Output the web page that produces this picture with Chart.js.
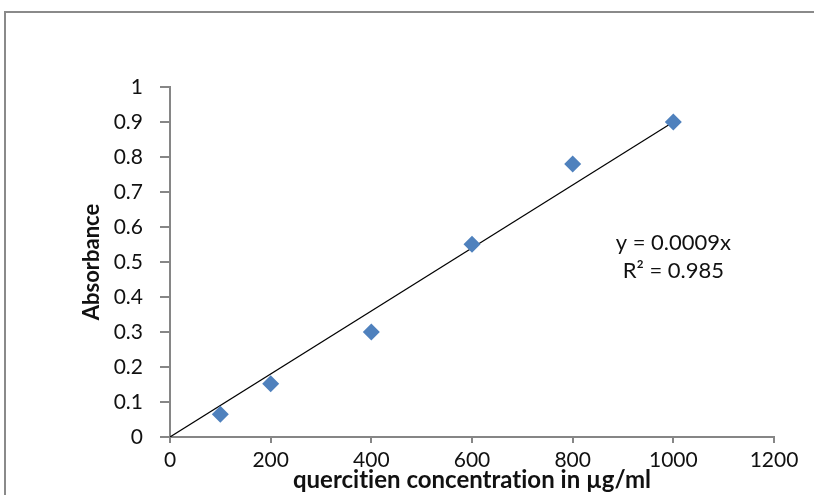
<!DOCTYPE html>
<html>
<head>
<meta charset="utf-8">
<script src="https://cdn.jsdelivr.net/npm/chart.js@4.4.1/dist/chart.umd.min.js"></script>
<style>
  html, body { margin: 0; padding: 0; background: #fff; overflow: hidden; }
  #wrap { position: relative; width: 814px; height: 495px; }
  #frame { position: absolute; left: 4px; top: 11px; width: 900px; height: 600px; border: 2px solid #8a8a8a; box-sizing: border-box; }
  canvas { position: absolute; left: 0; top: 0; }
</style>
</head>
<body>
<div id="wrap">
  <div id="frame"></div>
  <canvas id="c" width="814" height="495"></canvas>
</div>
<script>
// Data
const concentrations = [100, 200, 400, 600, 800, 1000];
const absorbance = [0.065, 0.152, 0.30, 0.551, 0.78, 0.90];
const trendX = [0, 1000];
const trendY = [0, 0.9];
const xTicks = [0, 200, 400, 600, 800, 1000, 1200];
const yTicks = [0, 0.1, 0.2, 0.3, 0.4, 0.5, 0.6, 0.7, 0.8, 0.9, 1];
const equationLines = ['y = 0.0009x', 'R\u00B2 = 0.985'];
// \u200C (zero-width non-joiner) keeps the font from forming a "ti" ligature
const xTitle = 'quercit\u200Cien concentrat\u200Cion in \u00B5g/ml';
const yTitle = 'Absorbance';

const FONT = 'Lato, "Open Sans", sans-serif';
const AXIS = '#868686';
const TEXT = '#111';

const eqAnchor = { x: 1000, y: 0.555 }; // data-space anchor for equation label

const eqPlugin = {
  id: 'eq',
  afterDatasetsDraw(chart) {
    const { ctx, scales } = chart;
    const cx = scales.x.getPixelForValue(eqAnchor.x);
    const cy = scales.y.getPixelForValue(eqAnchor.y);
    ctx.save();
    ctx.font = '22px ' + FONT;
    ctx.fillStyle = TEXT;
    ctx.textAlign = 'center';
    ctx.textBaseline = 'middle';
    equationLines.forEach((t, i) => ctx.fillText(t, cx, cy + i * 28));
    ctx.restore();
  }
};

new Chart(document.getElementById('c'), {
  type: 'scatter',
  data: {
    datasets: [
      {
        label: 'Absorbance',
        data: concentrations.map((x, i) => ({ x, y: absorbance[i] })),
        pointStyle: 'rectRot',
        pointRadius: 8.5,
        pointHoverRadius: 8.5,
        backgroundColor: '#4F81BD',
        borderColor: '#4F81BD',
        borderWidth: 0,
        order: 1
      },
      {
        label: 'Linear',
        type: 'line',
        data: trendX.map((x, i) => ({ x, y: trendY[i] })),
        borderColor: '#000',
        borderWidth: 1.2,
        pointRadius: 0,
        fill: false,
        order: 2
      }
    ]
  },
  options: {
    responsive: false,
    animation: false,
    events: [],
    layout: { padding: { left: 0, top: 87, right: 40, bottom: 0 } },
    plugins: {
      legend: { display: false },
      tooltip: { enabled: false },
      title: { display: false }
    },
    scales: {
      x: {
        type: 'linear',
        min: 0, max: 1200,
        afterBuildTicks(s) { s.ticks = xTicks.map(v => ({ value: v })); },
        afterFit(s) { s.height = 58; },
        border: { display: true, color: AXIS, width: 2 },
        grid: { display: true, drawOnChartArea: false, drawTicks: true, tickLength: 6, color: AXIS, lineWidth: 2 },
        ticks: { color: TEXT, font: { family: FONT, size: 21 }, padding: 5, maxRotation: 0, autoSkip: false, callback: v => String(v) },
        title: { display: true, text: xTitle, color: TEXT, font: { family: FONT, size: 24, weight: 'bold' }, padding: { top: 0, bottom: 0 } }
      },
      y: {
        type: 'linear',
        min: 0, max: 1,
        afterBuildTicks(s) { s.ticks = yTicks.map(v => ({ value: v })); },
        afterFit(s) { s.width = 170; },
        border: { display: true, color: AXIS, width: 2 },
        grid: { display: true, drawOnChartArea: false, drawTicks: true, tickLength: 10, color: AXIS, lineWidth: 2 },
        ticks: { color: TEXT, font: { family: FONT, size: 21 }, padding: 17, autoSkip: false, callback: v => String(v) },
        title: { display: true, text: yTitle, color: TEXT, font: { family: FONT, size: 22, weight: 'bold' }, padding: { top: 79, bottom: 0 } }
      }
    }
  },
  plugins: [eqPlugin]
});
</script>
</body>
</html>
